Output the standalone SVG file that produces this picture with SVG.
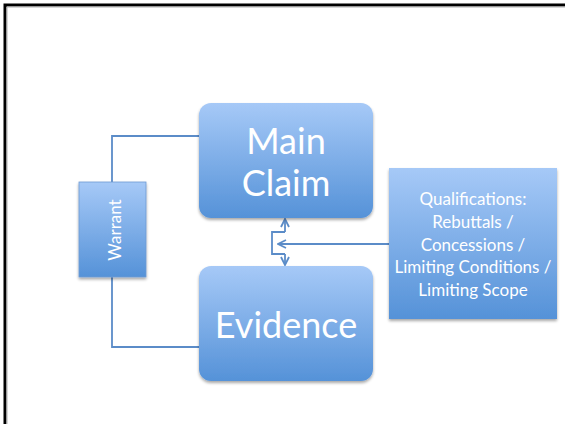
<svg xmlns="http://www.w3.org/2000/svg" width="565" height="424" viewBox="0 0 565 424">
  <defs>
    <linearGradient id="g" x1="0" y1="0" x2="0" y2="1">
      <stop offset="0" stop-color="#a6c9f7"/>
      <stop offset="1" stop-color="#5592d8"/>
    </linearGradient>
    <filter id="sh" x="-10%" y="-10%" width="120%" height="125%">
      <feGaussianBlur in="SourceAlpha" stdDeviation="1.5"/>
      <feOffset dx="0" dy="2" result="b"/>
      <feComponentTransfer><feFuncA type="linear" slope="0.35"/></feComponentTransfer>
      <feMerge><feMergeNode/><feMergeNode in="SourceGraphic"/></feMerge>
    </filter>
    <marker id="ah" viewBox="0 0 10 10" refX="9" refY="5" markerWidth="10" markerHeight="10" markerUnits="userSpaceOnUse" orient="auto">
      <path d="M1,1 L9,5 L1,9" fill="none" stroke="#5b8cc8" stroke-width="1.8"/>
    </marker>
  </defs>
  <style>
    .box { fill: url(#g); filter: url(#sh); }
    .t { fill: #ffffff; font-family: Lato, "Open Sans", "Liberation Sans", sans-serif; text-anchor: middle; }
    .big { font-size: 36px; }
    .small { font-size: 17px; }
    .c { fill: none; stroke: #5b8cc8; stroke-width: 1.8; }
  </style>
  <rect x="0" y="0" width="565" height="424" fill="#ffffff"/>
  <path d="M5,424 V5 H565" fill="none" stroke="#000000" stroke-width="3"/>
  <path d="M7,424 V7 H565" fill="none" stroke="#b0b0b0" stroke-width="1"/>

  <g id="connectors">
    <path class="c" d="M199,136 H112 V182"/>
    <path class="c" d="M112,277 V347 H199"/>
    <path class="c" d="M389,244 H278" marker-end="url(#ah)"/>
    <path class="c" d="M285,232 H272 V254 H285"/>
    <path class="c" d="M285,232 V219" marker-end="url(#ah)"/>
    <path class="c" d="M285,254 V265" marker-end="url(#ah)"/>
  </g>

  <g id="main-claim">
    <rect class="box" x="199" y="103" width="174" height="115" rx="12"/>
    <text class="t big" x="286" y="154">Main</text>
    <text class="t big" x="286" y="196">Claim</text>
  </g>

  <g id="evidence">
    <rect class="box" x="199" y="266" width="174" height="115" rx="12"/>
    <text class="t big" x="286" y="338">Evidence</text>
  </g>

  <g id="warrant">
    <rect class="box" x="79" y="182" width="67" height="95" stroke="#6f9bd3" stroke-width="0.8"/>
    <text class="t small" transform="translate(121,230) rotate(-90)">Warrant</text>
  </g>

  <g id="qualifications">
    <rect class="box" x="389" y="168" width="168" height="151"/>
    <text class="t small" x="473" y="205">Qualifications:</text>
    <text class="t small" x="473" y="228">Rebuttals /</text>
    <text class="t small" x="473" y="251">Concessions /</text>
    <text class="t small" x="473" y="273">Limiting Conditions /</text>
    <text class="t small" x="473" y="296">Limiting Scope</text>
  </g>
</svg>
